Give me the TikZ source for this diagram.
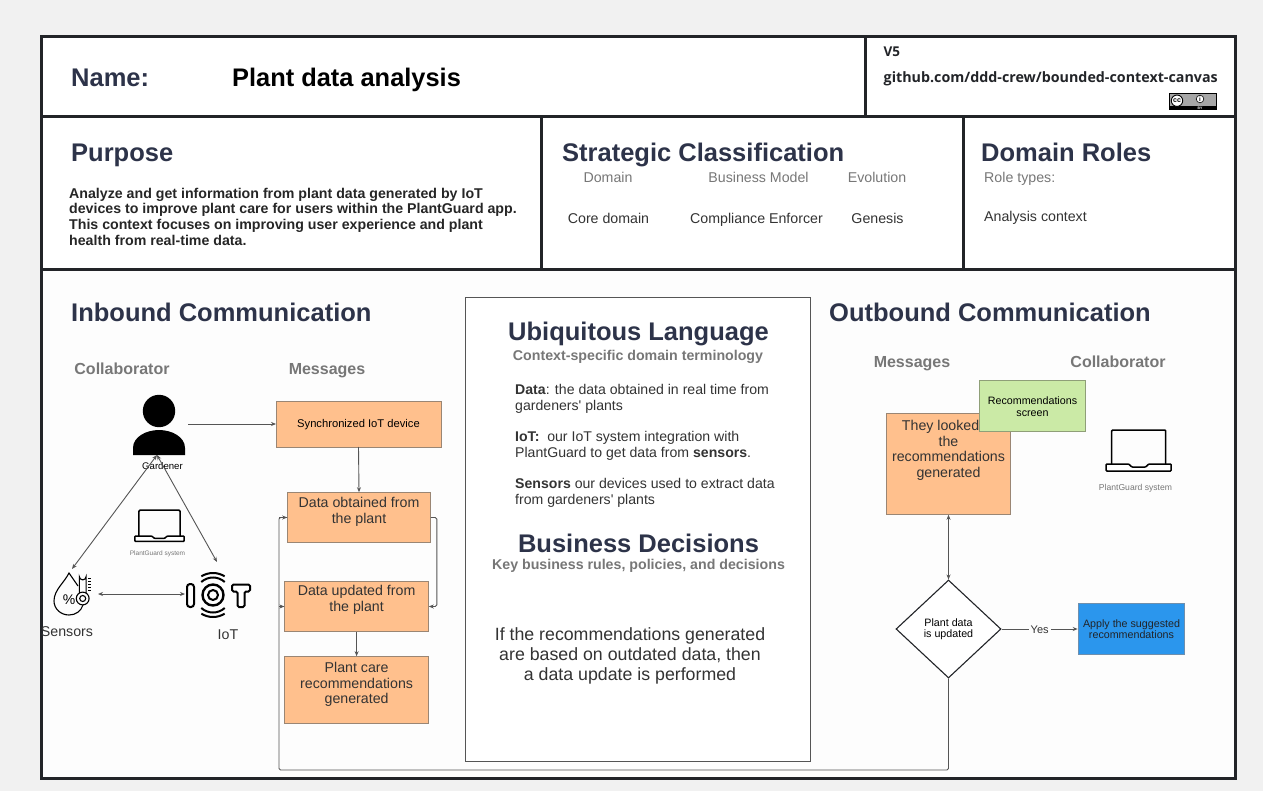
\documentclass[tikz,border=0pt]{standalone}
\usepackage{fontspec}
\setmainfont{Liberation Sans}
\newfontfamily\opensans{Open Sans}
\usetikzlibrary{arrows.meta,shapes.geometric}
\definecolor{pagebg}{HTML}{F1F1F1}
\definecolor{panel}{HTML}{FDFDFD}
\definecolor{framec}{HTML}{222428}
\definecolor{headc}{HTML}{2D3349}
\definecolor{subc}{HTML}{777777}
\definecolor{bodyc}{HTML}{333333}
\definecolor{orangeb}{HTML}{FFC08D}
\definecolor{greenb}{HTML}{CBEAA6}
\definecolor{blueb}{HTML}{2B96ED}
\definecolor{edgec}{HTML}{555555}
\definecolor{orangeedge}{HTML}{9A8674}
\definecolor{greenedge}{HTML}{8F9F78}
\definecolor{blueedge}{HTML}{6F8FAD}
\newcommand{\fs}[2]{\fontsize{#1}{#2}\selectfont}
\newcommand{\tbox}[4]{\parbox[c][#2pt][t]{#1pt}{\centering\vspace*{#3pt}\setlength{\baselineskip}{15.5pt}#4}}
\newcommand{\dropt}[1]{\raisebox{-1pt}[.8em][.2em]{#1}}
\tikzset{
 x=1pt,y=-1pt,
 frameline/.style={draw=framec,line width=3pt},
 title/.style={anchor=base west,inner sep=0,font=\bfseries\fs{25.5}{30},text=headc},
 sub/.style={anchor=base,inner sep=0,font=\bfseries\fs{16}{19},text=subc},
 cell/.style={anchor=base,inner sep=0,align=center,font=\fs{14.2}{16},text=bodyc},
 para/.style={anchor=north west,inner sep=0,align=left,font=\fs{14.1}{16},text=bodyc},
 msgbox/.style={draw=orangeedge,fill=orangeb,line width=1pt,inner sep=0,outer sep=0,text=bodyc,align=center,font=\fs{14.2}{15.5}},
 link/.style={draw=edgec,line width=.9pt,-{Stealth[length=5pt,width=4pt]}},
 twoway/.style={draw=edgec,line width=.9pt,{Stealth[length=5pt,width=4pt]}-{Stealth[length=5pt,width=4pt]}},
 plainlink/.style={draw=edgec,line width=.9pt},
 icon/.style={draw=black,line width=1.1pt,fill=none},
 iotline/.style={draw=black,line width=2pt},
 laptop/.pic={
  \draw[draw=black,line width=1.5pt,rounded corners=1pt] (-27,-2)--(-27,-36)--(27,-36)--(27,-2);
  \draw[draw=black,line width=1.5pt,fill=white,rounded corners=.8pt] (-32.5,-2)--(-10,-2)--(-7,1)--(7,1)--(10,-2)--(32.5,-2)--(32.5,5)--(-32.5,5)--cycle;
 }
}
\begin{document}
\begin{tikzpicture}
\useasboundingbox (0,0) rectangle (1263,791);
\fill[pagebg] (0,0) rectangle (1263,791);
\fill[white] (41,37) rectangle (1235,270);
\fill[panel] (41,270) rectangle (1235,778);
\draw[frameline] (41,37) rectangle (1235,778);
\draw[frameline] (41,117) -- (1235,117);
\draw[frameline] (41,270) -- (1235,270);
\draw[frameline] (865,37) -- (865,117);
\draw[frameline] (541,117) -- (541,270);
\draw[frameline] (963,117) -- (963,270);

% header
\node[title] (nm) at (71,86.5) {Name:};
\node[title,text=black,font=\bfseries\fs{25.4}{30}] (pname) at (232,86.5) {Plant data analysis};
\node[anchor=base west,inner sep=0,font=\opensans\bfseries\fs{13.5}{16},text=framec] (ver) at (883.5,57) {V5};
\node[anchor=base west,inner sep=0,font=\opensans\bfseries\fs{14.28}{17},text=framec] (url) at (883.5,82.5) {github.com/ddd-crew/bounded-context-canvas};
% cc badge
\fill[black] (1169,93) rectangle (1217,110);
\fill[gray!70] (1170,94) rectangle (1216,106);
\fill[white,draw=black,line width=.9pt] (1177,100.7) circle (5.7);
\node[inner sep=0,font=\bfseries\fs{7}{7},text=black] (cc) at (1177,100.2) {cc};
\fill[white,draw=black,line width=.6pt] (1200,99) circle (3.8);
\node[inner sep=0,font=\bfseries\fs{6}{6},text=black] (ccby) at (1200,99) {i};
\node[inner sep=0,font=\bfseries\fs{3.5}{4},text=white] (byt) at (1200,108) {BY};

% purpose
\node[title] (purp) at (71,161.7) {Purpose};
\node[para,font=\bfseries\fs{14.18}{15.8},text=black!85] (purpt) at (69,187.6) {Analyze and get information from plant data generated by IoT\\
devices to improve plant care for users within the PlantGuard app.\\
This context focuses on improving user experience and plant\\
health from real-time data.};
% strategic
\node[title] (strat) at (562,161.7) {Strategic Classification};
\node[cell,text=subc] (h1) at (608,182.7) {Domain};
\node[cell,text=subc] (h2) at (758.5,182.7) {Business Model};
\node[cell,text=subc] (h3) at (877,182.7) {Evolution};
\node[cell] (v1) at (608.5,223.7) {Core domain};
\node[cell] (v2) at (756.5,223.7) {Compliance Enforcer};
\node[cell] (v3) at (877.5,223.7) {Genesis};
% roles
\node[title] (roles) at (981,161.7) {Domain Roles};
\node[cell,anchor=base west,text=subc] (rt) at (984,182.7) {Role types:};
\node[cell,anchor=base west] (ac) at (984,221.7) {Analysis context};

% inbound
\node[title] (inb) at (71,321.7) {Inbound Communication};
\node[sub] (collab) at (122,374) {Collaborator};
\node[sub] (msgs) at (327,374) {Messages};

% gardener
\fill[black] (159,411) circle (16.2);
\fill[black] (133,455) -- (133,448) .. controls (133,437) and (146,430) .. (159,430) .. controls (172,430) and (185,437) .. (185,448) -- (185,455) -- cycle;
\node[inner sep=0,font=\fs{9.6}{11},text=black] (gard) at (162.5,466) {Gardener};
\coordinate (gardenerR) at (188,424);
\coordinate (gardenerB) at (157,455);
% laptop small
\pic[scale=.76] at (159.5,537.6) {laptop};
\node[inner sep=0,font=\fs{6.5}{8},text=subc] (plg1) at (157.5,554) {PlantGuard system};
% sensors icon
\draw[icon] (83,605) .. controls (81,611) and (76,615) .. (69,615) .. controls (61,615) and (54,609) .. (54,601) .. controls (54,590) and (64,583) .. (69,573) -- (78,586);
\draw[icon] (79.3,593) -- (79.3,576.5) arc[start angle=180,end angle=0,radius=3.4] -- (86.1,593);
\draw[icon] (82.7,598.5) circle (6.4);
\draw[icon] (82.7,598.5) circle (3);
\draw[icon,line width=.7pt] (88,578) -- (91,578) (88,581) -- (91,581) (88,584) -- (91,584) (88,587) -- (91,587) (88,590) -- (91,590);
\node[inner sep=0,font=\fs{14}{14},text=black] (pct) at (69,600) {\%};
\coordinate (sensT) at (72,569);
\coordinate (sensR) at (98,594);
\node[inner sep=0,font=\fs{14.2}{16},text=bodyc] (sensl) at (67,631.5) {Sensors};
% iot icon
\draw[iotline,rounded corners=3pt] (187,584) rectangle (194,607);
\draw[iotline] (213,595) circle (5);
\draw[iotline,line width=2.4pt] (213,595) circle (10.5);
\draw[iotline] (213,595) ++(48:17.5) arc[start angle=48,end angle=132,radius=17.5];
\draw[iotline] (213,595) ++(-48:17.5) arc[start angle=-48,end angle=-132,radius=17.5];
\draw[iotline] (213,595) ++(58:22) arc[start angle=58,end angle=122,radius=22];
\draw[iotline] (213,595) ++(-58:22) arc[start angle=-58,end angle=-122,radius=22];
\draw[iotline,rounded corners=1.5pt,fill=white] (232,584.5) -- (250,584.5) -- (250,591.5) -- (244.5,591.5) -- (244.5,607) -- (237.5,607) -- (237.5,591.5) -- (232,591.5) -- cycle;
\coordinate (iotT) at (217,562);
\coordinate (iotL) at (185,594);
\node[inner sep=0,font=\fs{14.2}{16},text=bodyc] (iotl) at (228,634.5) {IoT};

% inbound boxes
\node[msgbox,minimum width=165pt,minimum height=46pt,font=\fs{11.2}{13},text=black,text height=8.5pt,text depth=1.5pt] (sync) at (358.5,424) {Synchronized IoT device};
\node[msgbox,minimum width=143.6pt,minimum height=50.6pt] (obt) at (359,517.5) {\tbox{143}{50}{5}{Data obtained from\\the plant}};
\node[msgbox,minimum width=144.4pt,minimum height=50.6pt] (upd) at (356.6,606.5) {\tbox{144}{50}{4}{Data updated from\\the plant}};
\node[msgbox,minimum width=144.4pt,minimum height=67.6pt] (care) at (356.6,690) {\tbox{144}{67}{6}{Plant care\\recommendations\\generated}};

\draw[link] (gardenerR) -- (sync.west);
\draw[link] (sync.south) -- (obt.north);
\draw[link] (upd.south) -- (care.north);
\draw[link,rounded corners=1.5pt] (obt.east) -- ++(6,0) |- (upd.east);
\draw[twoway] (gardenerB) -- (sensT);
\draw[twoway] (gardenerB) -- (iotT);
\draw[twoway] (sensR) -- (iotL);

% centre
\node[draw=edgec,line width=1pt,fill=white,minimum width=345.6pt,minimum height=463pt,inner sep=0] (ubox) at (638,529.5) {};
\node[anchor=base,inner sep=0,font=\bfseries\fs{25.5}{30},text=headc] (ul) at (638.5,341) {Ubiquitous Language};
\node[anchor=base,inner sep=0,font=\bfseries\fs{14.2}{16},text=subc] (ulsub) at (638,360) {Context-specific domain terminology};
\node[para] (t1) at (515,384) {\textbf{Data}: the data obtained in real time from\\gardeners\textquotesingle{} plants};
\node[para] (t2) at (515,431) {\textbf{IoT:}\ \ our IoT system integration with\\PlantGuard to get data from \textbf{sensors}.};
\node[para] (t3) at (515,478) {\textbf{Sensors} our devices used to extract data\\from gardeners\textquotesingle{} plants};
\node[anchor=base,inner sep=0,font=\bfseries\fs{25.5}{30},text=headc] (bd) at (638.5,552) {Business Decisions};
\node[anchor=base,inner sep=0,font=\bfseries\fs{14.2}{16},text=subc] (bdsub) at (638.5,569) {Key business rules, policies, and decisions};
\node[inner sep=0,align=center,font=\fs{17.75}{19.6},text=bodyc] (bdt) at (630,656) {If the recommendations generated\\are based on outdated data, then\\a data update is performed};

% outbound
\node[title] (outb) at (829,321.7) {Outbound Communication};
\node[sub] (m2) at (912,367) {Messages};
\node[sub] (c2) at (1118,367) {Collaborator};
\node[msgbox,minimum width=124.6pt,minimum height=101.6pt] (looked) at (948.5,464) {\tbox{124}{101}{7}{They looked at\\the\\recommendations\\generated}};
\node[draw=greenedge,fill=greenb,line width=1pt,minimum width=106.6pt,minimum height=51.6pt,inner sep=0,align=center,font=\fs{10.7}{12},text=black] (screen) at (1032.5,406) {\dropt{Recommendations}\\\dropt{screen}};
\pic[scale=1] at (1138.7,466) {laptop};
\node[inner sep=0,font=\fs{8.6}{10},text=subc] (plg2) at (1135.5,488) {PlantGuard system};

\node[diamond,aspect=1.07,draw=framec,fill=white,line width=1.1pt,inner sep=0,minimum width=105pt,minimum height=98pt,align=center,font=\fs{10.7}{11},text=black] (dec) at (948.5,629) {Plant data\\is updated};
\node[draw=blueedge,fill=blueb,line width=1pt,minimum width=106.6pt,minimum height=51.6pt,inner sep=0,align=center,font=\fs{10.7}{11},text=framec] (apply) at (1131.5,629) {Apply the suggested\\recommendations};

\draw[twoway] (looked.south) -- (dec.north);
\draw[link] (dec.east) -- node[fill=panel,inner sep=2pt,font=\fs{11}{13},text=bodyc,yshift=-0.7pt] (yes) {Yes} (apply.west);
\coordinate (retA) at (948.5,770);
\coordinate (retB) at (279,770);
\coordinate (retC) at (279,517.5);
\coordinate (retD) at (279,606.5);
\draw[plainlink,rounded corners=1.5pt] (dec.south) -- (retA) -- (retB) -- (retC) -- (obt.west);
\draw[link] (retC) -- (obt.west);
\draw[link] (retD) -- (upd.west);
\end{tikzpicture}
\end{document}
